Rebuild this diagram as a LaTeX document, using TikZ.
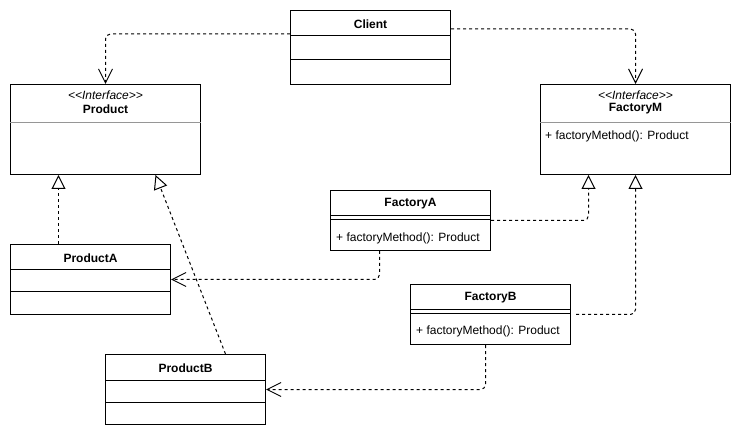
\documentclass[tikz,border=0pt]{standalone}
\usepackage{fontspec}
\setmainfont{Liberation Sans}
\usetikzlibrary{arrows.meta}
\definecolor{sepgray}{RGB}{150,150,150}

\tikzset{
  umlbox/.style={draw, line width=1pt, anchor=north west, inner sep=0pt},
  titletext/.style={font=\fontsize{12}{14}\selectfont\bfseries, inner sep=0pt},
  stereotext/.style={font=\fontsize{12}{14}\selectfont\itshape, inner sep=0pt},
  methodtext/.style={font=\fontsize{12}{14}\selectfont, inner sep=0pt, anchor=west},
  dep/.style={line width=1pt, dash pattern=on 3pt off 3pt, rounded corners=5pt,
    -{Straight Barb[length=14pt,width=14pt,line width=1pt]}},
  realize/.style={line width=1pt, dash pattern=on 3pt off 3pt, rounded corners=5pt,
    -{Triangle[open,length=14pt,width=14pt,line width=1pt,fill=white]}}
}

\begin{document}
\begin{tikzpicture}[x=1pt,y=-1pt]
  \useasboundingbox (0,0) rectangle (741,435);

  % classes
  \node[umlbox, minimum width=160pt, minimum height=74pt] (client) at (290,10) {};
  \node[umlbox, minimum width=190pt, minimum height=90pt] (product) at (10,84) {};
  \node[umlbox, minimum width=190pt, minimum height=90pt] (factoryM) at (540,84) {};
  \node[umlbox, minimum width=160pt, minimum height=60pt] (factoryA) at (330,190) {};
  \node[umlbox, minimum width=160pt, minimum height=60pt] (factoryB) at (410,284) {};
  \node[umlbox, minimum width=160pt, minimum height=70pt] (productA) at (10,244) {};
  \node[umlbox, minimum width=160pt, minimum height=70pt] (productB) at (105,354) {};

  % compartments
  \draw[line width=1pt] ([yshift=-26pt]client.north west) -- ([yshift=-26pt]client.north east);
  \draw[line width=1pt] ([yshift=-50pt]client.north west) -- ([yshift=-50pt]client.north east);
  \draw[sepgray, line width=1pt] ([yshift=-39pt]product.north west) -- ([yshift=-39pt]product.north east);
  \draw[sepgray, line width=1pt] ([yshift=-39pt]factoryM.north west) -- ([yshift=-39pt]factoryM.north east);
  \draw[line width=1pt] ([yshift=-26pt]factoryA.north west) -- ([yshift=-26pt]factoryA.north east);
  \draw[line width=1pt] ([yshift=-30pt]factoryA.north west) -- ([yshift=-30pt]factoryA.north east);
  \draw[line width=1pt] ([yshift=-26pt]factoryB.north west) -- ([yshift=-26pt]factoryB.north east);
  \draw[line width=1pt] ([yshift=-30pt]factoryB.north west) -- ([yshift=-30pt]factoryB.north east);
  \draw[line width=1pt] ([yshift=-26pt]productA.north west) -- ([yshift=-26pt]productA.north east);
  \draw[line width=1pt] ([yshift=-48pt]productA.north west) -- ([yshift=-48pt]productA.north east);
  \draw[line width=1pt] ([yshift=-26pt]productB.north west) -- ([yshift=-26pt]productB.north east);
  \draw[line width=1pt] ([yshift=-48pt]productB.north west) -- ([yshift=-48pt]productB.north east);

  % texts
  \node[titletext] (clientname) at ([yshift=-14pt]client.north) {Client};
  \node[stereotext] (productstereo) at ([yshift=-11pt]product.north) {<{}<Interface>{}>};
  \node[titletext] (productname) at ([yshift=-25pt]product.north) {Product};
  \node[stereotext] (factoryMstereo) at ([yshift=-11pt]factoryM.north) {<{}<Interface>{}>};
  \node[titletext] (factoryMname) at ([yshift=-25pt]factoryM.north) {FactoryM};
  \node[methodtext] (factoryMmethod) at ([xshift=5pt,yshift=-52pt]factoryM.north west) {+ factoryMethod(): Product};
  \node[titletext] (factoryAname) at ([yshift=-14pt]factoryA.north) {FactoryA};
  \node[methodtext] (factoryAmethod) at ([xshift=6pt,yshift=-48pt]factoryA.north west) {+ factoryMethod(): Product};
  \node[titletext] (factoryBname) at ([yshift=-14pt]factoryB.north) {FactoryB};
  \node[methodtext] (factoryBmethod) at ([xshift=6pt,yshift=-47pt]factoryB.north west) {+ factoryMethod(): Product};
  \node[titletext] (productAname) at ([yshift=-14pt]productA.north) {ProductA};
  \node[titletext] (productBname) at ([yshift=-14pt]productB.north) {ProductB};

  % dependencies
  \draw[dep] ([yshift=-24pt]client.north west) -| (product.north);
  \draw[dep] ([yshift=-19pt]client.north east) -| (factoryM.north);
  \draw[dep] ([xshift=-31pt]factoryA.south) |- (productA.east);
  \draw[dep] ([xshift=-5pt]factoryB.south) |- (productB.east);

  % realizations
  \draw[realize] ([xshift=-32pt]productA.north) -- ([xshift=-32pt]productA.north |- product.south);
  \draw[realize] ([xshift=40pt]productB.north) -- ([xshift=50pt]product.south);
  \draw[realize] (factoryA.east) -| ([xshift=-47pt]factoryM.south);
  \draw[realize] ([xshift=5pt]factoryB.east) -| (factoryM.south);
\end{tikzpicture}
\end{document}
